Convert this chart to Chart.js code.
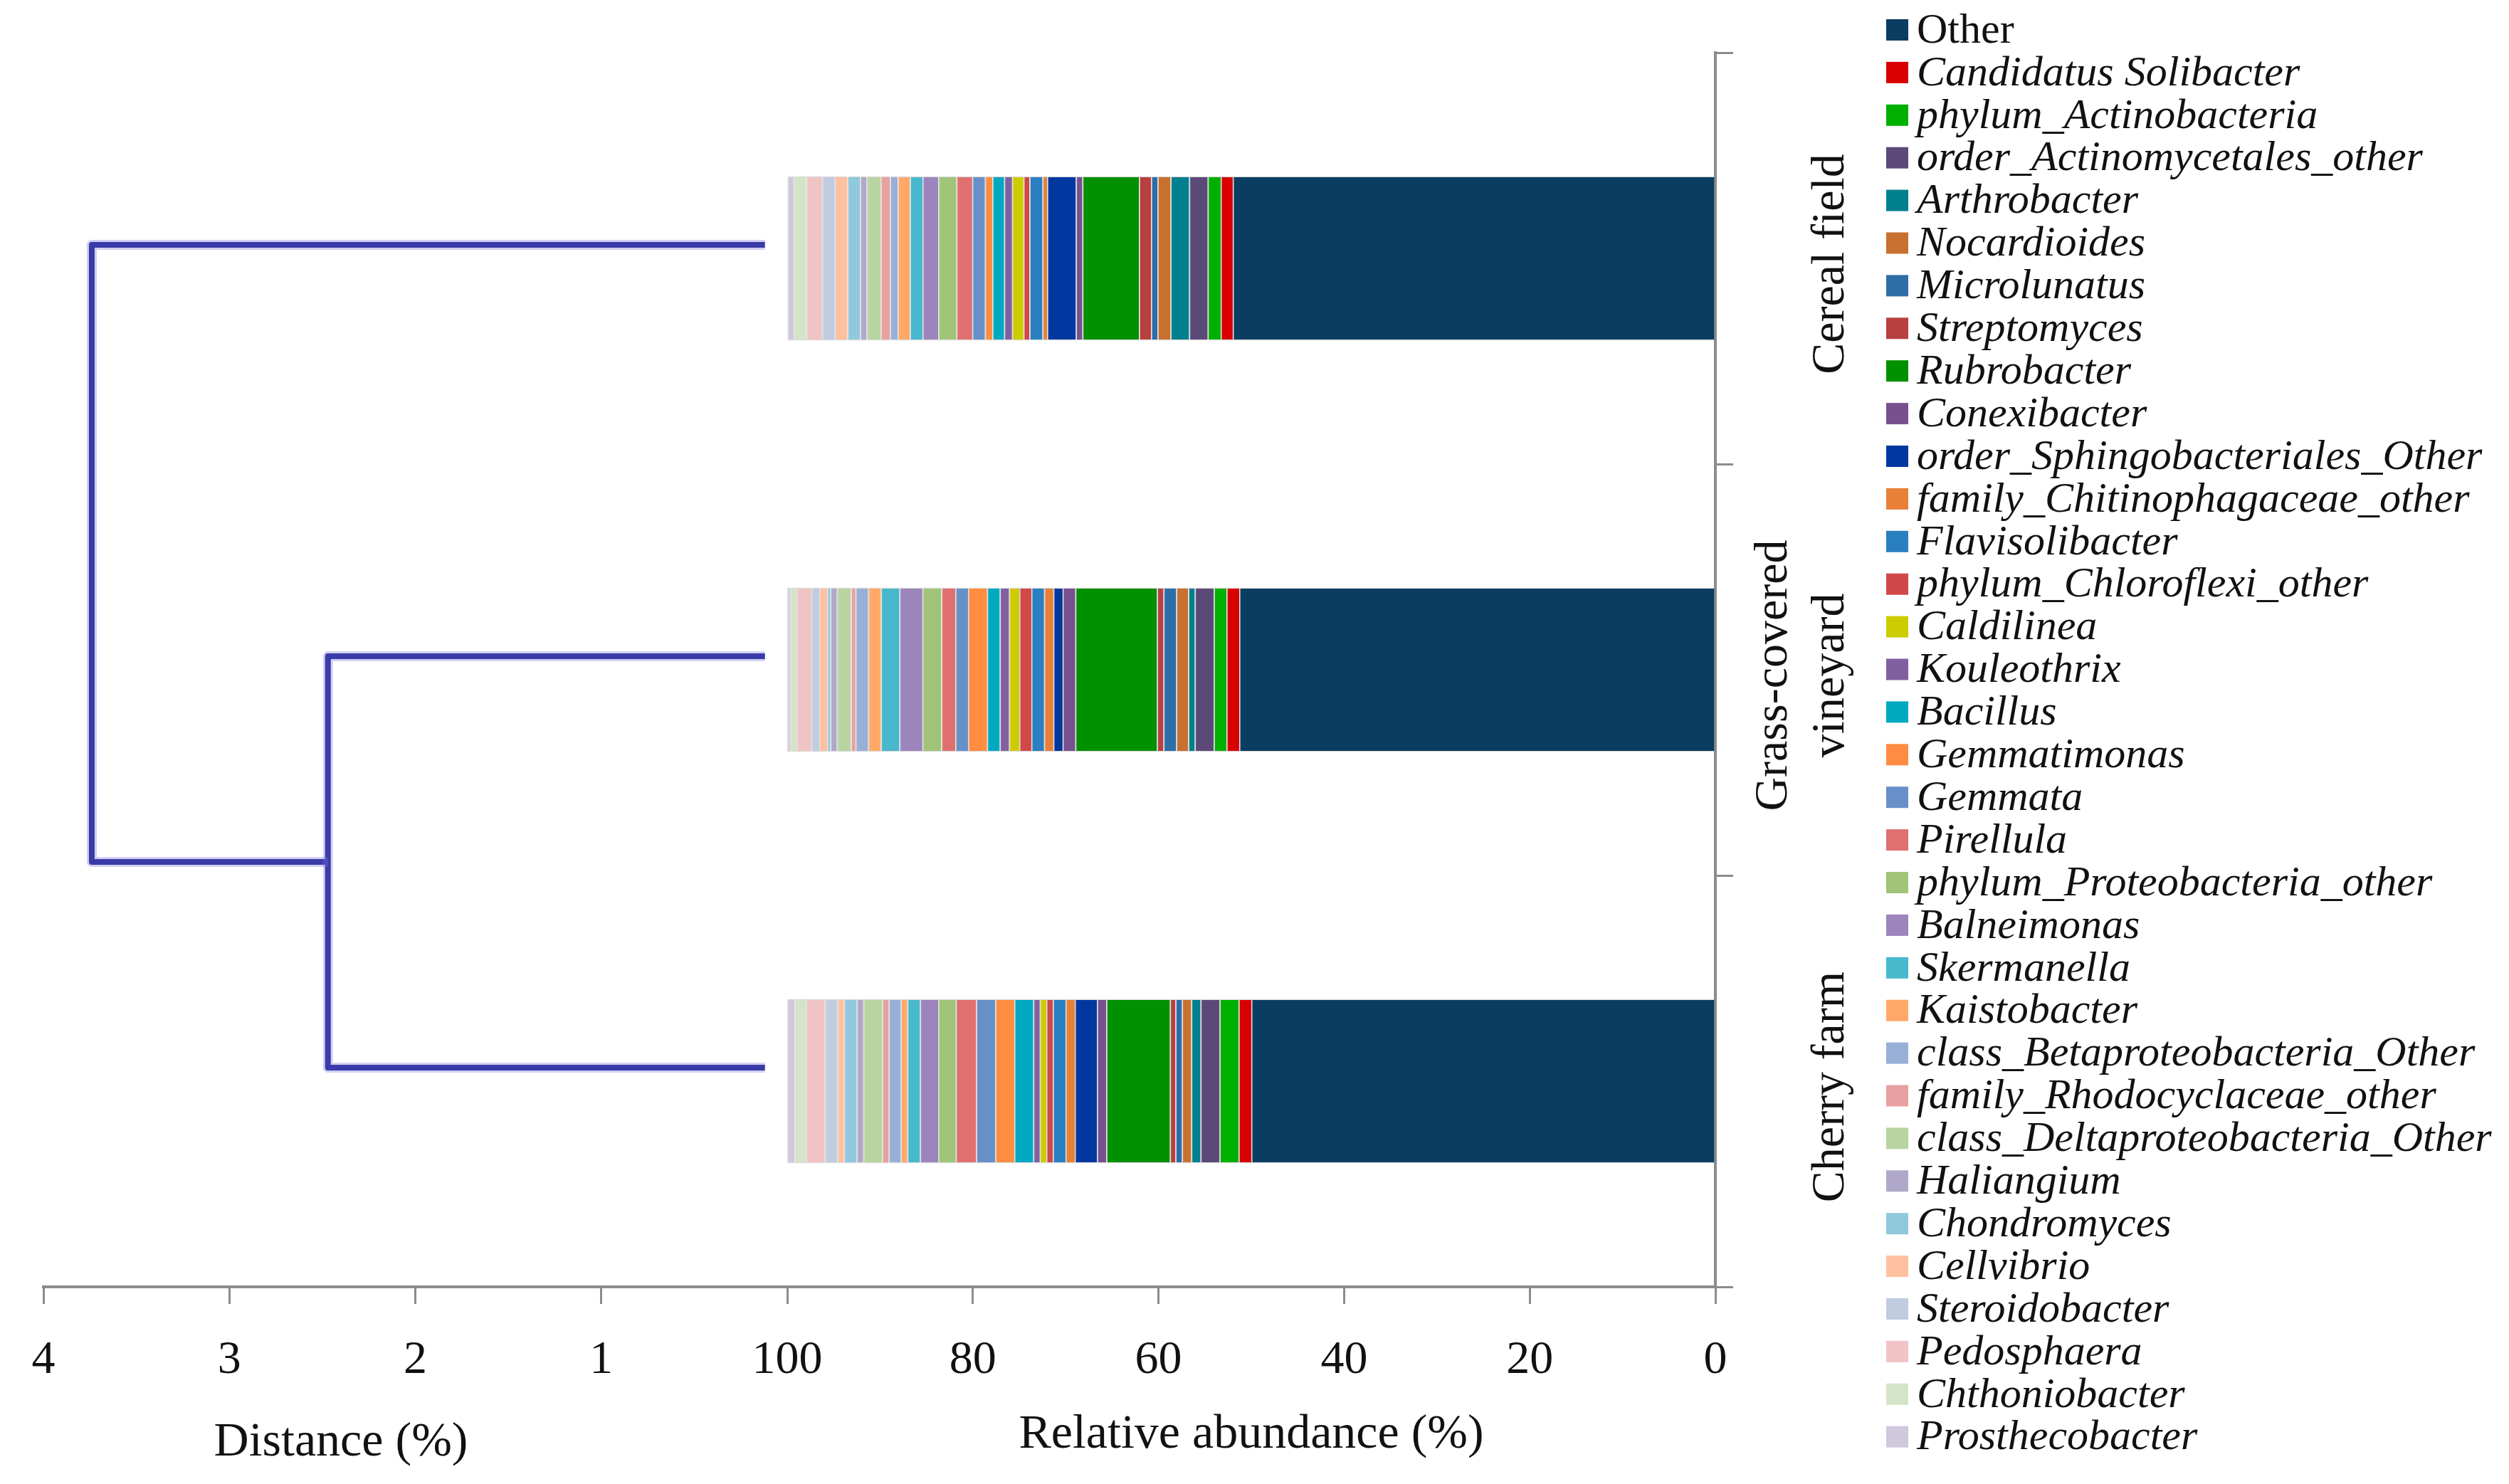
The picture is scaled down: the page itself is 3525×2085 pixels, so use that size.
<!DOCTYPE html>
<html>
<head>
<meta charset="utf-8">
<script src="https://cdn.jsdelivr.net/npm/chart.js@4.4.0/dist/chart.umd.min.js"></script>
<style>
  html, body { margin: 0; padding: 0; background: #fff; overflow: hidden; }
  #marco { position: relative; width: 3525px; height: 2085px; }
  #marco canvas { position: absolute; left: 0; top: 0; }
</style>
</head>
<body>
<div id="marco">
  <canvas id="dendrograma" width="3525" height="2085"></canvas>
  <canvas id="barras" width="3525" height="2085"></canvas>
</div>
<script>
// Categorías (muestras)
const categorias = ["Cereal field", ["Grass-covered", "vineyard"], "Cherry farm"];

// Taxones (orden de apilado: el primero parte de 0)
const taxones = [
    "Other", "Candidatus Solibacter", "phylum_Actinobacteria", "order_Actinomycetales_other",
    "Arthrobacter", "Nocardioides", "Microlunatus", "Streptomyces", "Rubrobacter", "Conexibacter",
    "order_Sphingobacteriales_Other", "family_Chitinophagaceae_other", "Flavisolibacter",
    "phylum_Chloroflexi_other", "Caldilinea", "Kouleothrix", "Bacillus", "Gemmatimonas", "Gemmata",
    "Pirellula", "phylum_Proteobacteria_other", "Balneimonas", "Skermanella", "Kaistobacter",
    "class_Betaproteobacteria_Other", "family_Rhodocyclaceae_other", "class_Deltaproteobacteria_Other",
    "Haliangium", "Chondromyces", "Cellvibrio", "Steroidobacter", "Pedosphaera", "Chthoniobacter",
    "Prosthecobacter"
];

const colores = [
    "#0a3d62", "#d80000", "#00b000", "#5b4a78", "#007f8f", "#c87030", "#2e6ea8", "#b84040",
    "#009000", "#785090", "#0038a0", "#e88038", "#2a7fc0", "#d04848", "#cccc00", "#8060a0",
    "#00a8c0", "#ff8c40", "#6890c8", "#e07070", "#a0c478", "#9c84bc", "#48b8cc", "#ffa868",
    "#98b0d8", "#e8a0a0", "#b8d4a0", "#b0a8c8", "#90c8dc", "#ffc0a0", "#c0cce0", "#f0c4c4",
    "#d4e4c8", "#d0c8dc"
];

// Abundancia relativa (%) por taxón, mismo orden que "taxones"
const cerealField = [
    52.0, 1.3, 1.4, 2.0, 2.0, 1.4, 0.7, 1.3, 6.1, 0.7, 3.1, 0.5, 1.4, 0.65, 1.23, 0.85, 1.27,
    0.8, 1.37, 1.7, 1.95, 1.7, 1.37, 1.3, 0.85, 1.0, 1.5, 0.7, 1.37, 1.37, 1.37, 1.7, 1.37, 0.65
];
const grassVineyard = [
    51.3, 1.37, 1.37, 2.05, 0.7, 1.3, 1.37, 0.7, 8.8, 1.37, 1.0, 1.0, 1.37, 1.3, 1.1, 1.0, 1.37,
    2.05, 1.37, 1.5, 2.05, 2.47, 2.0, 1.37, 1.37, 0.5, 1.5, 0.7, 0.35, 0.85, 0.85, 1.6, 0.7, 0.3
];
const cherryFarm = [
    50.0, 1.37, 2.05, 2.05, 1.0, 1.0, 0.7, 0.6, 6.85, 1.0, 2.4, 1.0, 1.37, 0.7, 0.7, 0.7, 2.05,
    2.05, 2.05, 2.2, 1.9, 1.95, 1.37, 0.7, 1.3, 0.7, 2.05, 0.7, 1.37, 0.7, 1.37, 2.05, 1.2, 0.8
];

// Dendrograma: distancia (%) de cada unión; hojas = índice de categoría
const finHojas = 0.12;
const uniones = [
    { a: 1, b: 2, distancia: 2.47 },   // Grass-covered vineyard + Cherry farm
    { a: 0, b: 3, distancia: 3.74 }    // Cereal field + (unión anterior)
];

const fuente = "'Liberation Serif', 'Times New Roman', serif";
const grisEje = "#8c8c8c";
Chart.defaults.font.family = fuente;
Chart.defaults.color = "#111";

// --- nodos del dendrograma ---
const nodos = categorias.map((c, i) => ({ x: finHojas, y: i }));
const tramos = uniones.map(u => {
    const na = nodos[u.a], nb = nodos[u.b];
    nodos.push({ x: u.distancia, y: (na.y + nb.y) / 2 });
    return [
        { x: na.x, y: na.y }, { x: u.distancia, y: na.y },
        { x: u.distancia, y: nb.y }, { x: nb.x, y: nb.y }
    ];
});

const datosDendro = [];
tramos.forEach(t => datosDendro.push({
    data: t, showLine: true, pointRadius: 0, borderColor: "rgba(120,120,220,0.35)",
    borderWidth: 14, borderJoinStyle: "round", fill: false
}));
tramos.forEach(t => datosDendro.push({
    data: t, showLine: true, pointRadius: 0, borderColor: "#1a1a8c",
    borderWidth: 8, borderJoinStyle: "round", fill: false
}));

const tituloDistancia = {
    id: "tituloDistancia",
    afterDraw(chart) {
        const { ctx, chartArea } = chart;
        ctx.save();
        ctx.font = "68px " + fuente;
        ctx.fillStyle = "#111";
        ctx.textAlign = "center";
        ctx.textBaseline = "middle";
        ctx.fillText("Distance (%)", chartArea.left + chartArea.width * 0.4, 2027);
        ctx.restore();
    }
};

new Chart(document.getElementById("dendrograma"), {
    type: "scatter",
    data: { datasets: datosDendro },
    options: {
        responsive: false,
        devicePixelRatio: 1,
        animation: false,
        layout: { padding: { left: 61, right: 2419, top: 74, bottom: 0 } },
        plugins: { legend: { display: false }, tooltip: { enabled: false } },
        scales: {
            x: {
                type: "linear", min: 0, max: 4, reverse: true,
                afterFit: s => { s.height = 277; },
                ticks: {
                    stepSize: 1, padding: 40, font: { size: 66 },
                    callback: v => (v === 0 ? "" : v)
                },
                grid: { drawOnChartArea: false, drawTicks: true, tickLength: 24, color: grisEje, lineWidth: 3 },
                border: { display: true, color: grisEje, width: 4 }
            },
            y: { type: "linear", min: -0.467, max: 2.533, reverse: true, display: false }
        }
    },
    plugins: [tituloDistancia]
});

// --- barras apiladas ---
const muestras = [cerealField, grassVineyard, cherryFarm];
const datosBarras = taxones.map((t, i) => ({
    label: t,
    data: muestras.map(m => m[i]),
    backgroundColor: colores[i],
    borderColor: "rgba(60,60,60,0.18)",
    borderWidth: 1.5,
    barPercentage: 0.4,
    categoryPercentage: 1.0
}));

const etiquetasCategoria = {
    id: "etiquetasCategoria",
    afterDraw(chart) {
        const { ctx } = chart;
        const ejeY = chart.scales.y;
        ctx.save();
        ctx.font = "66px " + fuente;
        ctx.fillStyle = "#111";
        ctx.textAlign = "center";
        ctx.textBaseline = "alphabetic";
        chart.data.labels.forEach((lab, i) => {
            const lineas = Array.isArray(lab) ? lab : [lab];
            const yc = ejeY.getPixelForValue(i) + 8;
            ctx.save();
            ctx.translate(ejeY.right + 150, yc);
            ctx.rotate(-Math.PI / 2);
            lineas.forEach((l, k) => ctx.fillText(l, 0, -(lineas.length - 1 - k) * 80));
            ctx.restore();
        });
        ctx.restore();
    }
};

const leyenda = {
    id: "leyenda",
    afterDraw(chart) {
        const { ctx } = chart;
        const x0 = 2650, y0 = 42, paso = 59.9;
        ctx.save();
        ctx.textBaseline = "middle";
        ctx.textAlign = "left";
        chart.data.datasets.forEach((ds, i) => {
            const y = y0 + i * paso;
            ctx.fillStyle = ds.backgroundColor;
            ctx.fillRect(x0, y - 15, 31, 30);
            ctx.fillStyle = "#111";
            ctx.font = (ds.label === "Other" ? "" : "italic ") + "60px " + fuente;
            ctx.fillText(ds.label, x0 + 43, y + 2);
        });
        ctx.restore();
    }
};

new Chart(document.getElementById("barras"), {
    type: "bar",
    data: { labels: categorias, datasets: datosBarras },
    options: {
        indexAxis: "y",
        responsive: false,
        devicePixelRatio: 1,
        animation: false,
        layout: { padding: { left: 1106, right: 1085, top: 74, bottom: 0 } },
        plugins: { legend: { display: false }, tooltip: { enabled: false } },
        scales: {
            x: {
                stacked: true, min: 0, max: 100, reverse: true,
                afterFit: s => { s.height = 277; },
                ticks: { stepSize: 20, padding: 40, font: { size: 66 } },
                grid: { drawOnChartArea: false, drawTicks: true, tickLength: 24, color: grisEje, lineWidth: 3 },
                border: { display: true, color: grisEje, width: 4 },
                title: {
                    display: true, text: "Relative abundance (%)",
                    font: { size: 68 }, color: "#111", padding: { top: 0, bottom: 28 }
                }
            },
            y: {
                stacked: true, position: "right",
                afterFit: s => { s.width = 30; },
                ticks: { display: false },
                grid: { drawOnChartArea: false, drawTicks: true, tickLength: 25, color: grisEje, lineWidth: 3, offset: true },
                border: { display: true, color: grisEje, width: 4 }
            }
        }
    },
    plugins: [etiquetasCategoria, leyenda]
});
</script>
</body>
</html>
